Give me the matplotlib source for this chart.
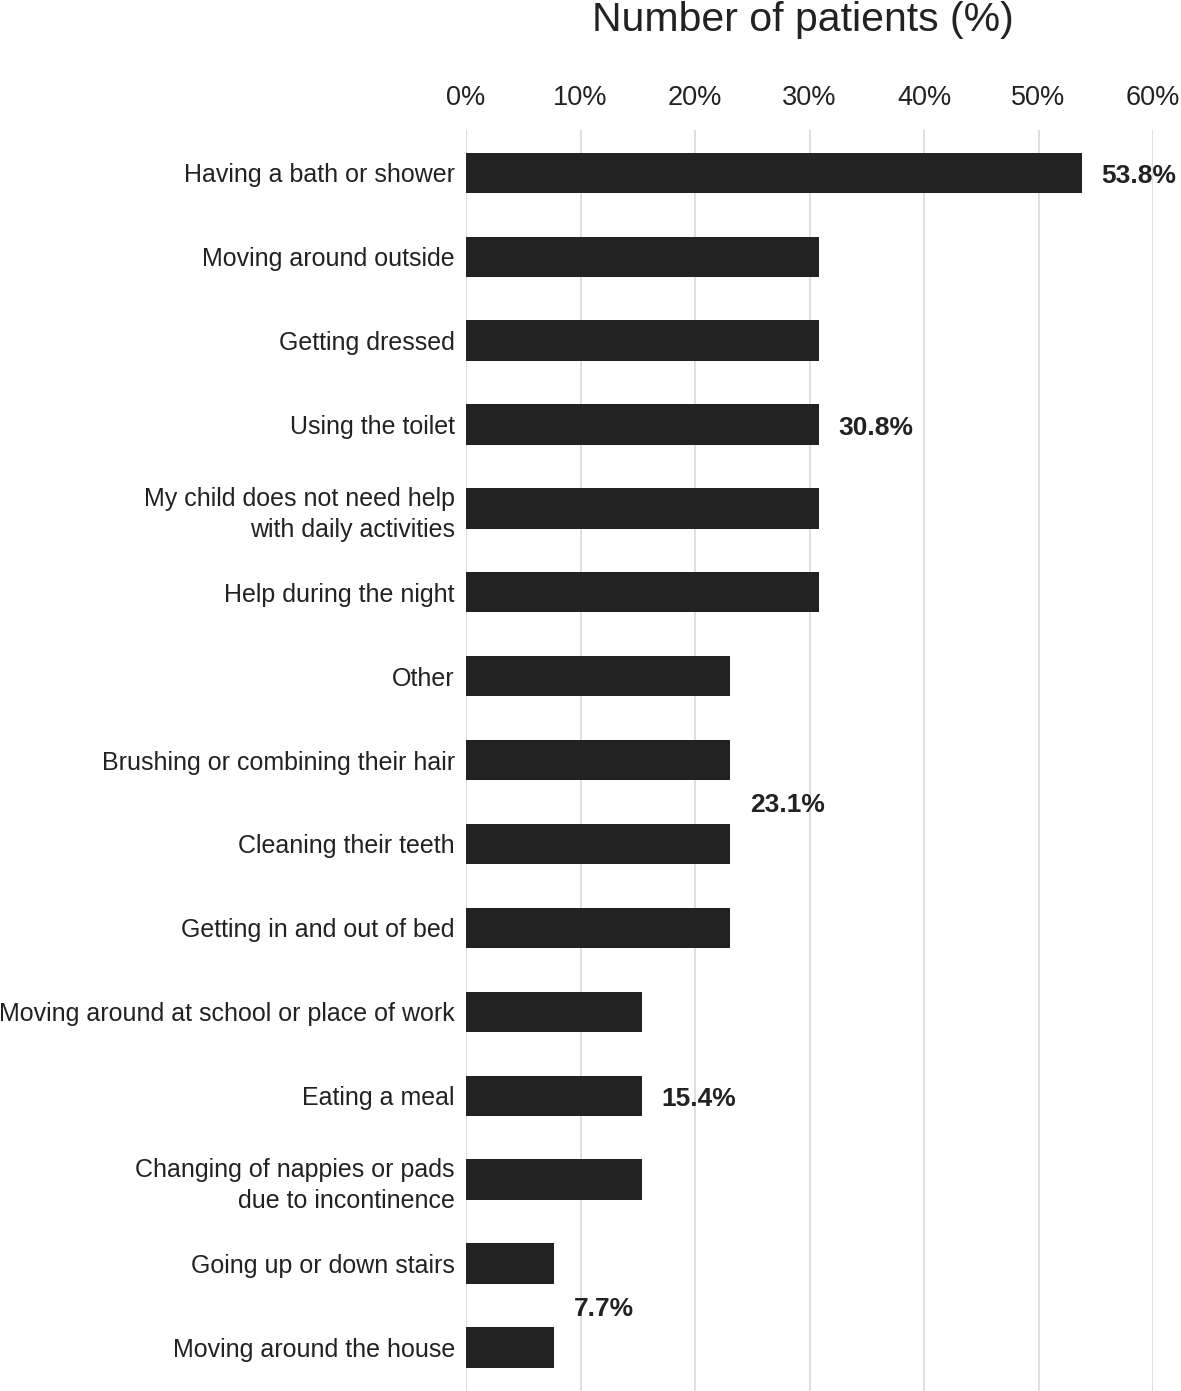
import matplotlib.pyplot as plt
import numpy as np

categories = [
    "Having a bath or shower",
    "Moving around outside",
    "Getting dressed",
    "Using the toilet",
    "My child does not need help\nwith daily activities",
    "Help during the night",
    "Other",
    "Brushing or combining their hair",
    "Cleaning their teeth",
    "Getting in and out of bed",
    "Moving around at school or place of work",
    "Eating a meal",
    "Changing of nappies or pads\ndue to incontinence",
    "Going up or down stairs",
    "Moving around the house",
]
values = [53.8, 30.8, 30.8, 30.8, 30.8, 30.8, 23.1, 23.1, 23.1, 23.1,
          15.4, 15.4, 15.4, 7.7, 7.7]
# value labels: (first index, last index, text) of each group of equal bars
group_labels = [(0, 0, "53.8%"), (1, 5, "30.8%"), (6, 9, "23.1%"),
                (10, 12, "15.4%"), (13, 14, "7.7%")]
xticks = [0, 10, 20, 30, 40, 50, 60]

plt.rcParams['font.family'] = ['Liberation Sans', 'DejaVu Sans']
txt = '#222222'

fig = plt.figure(figsize=(11.81, 13.91), dpi=100)
ax = fig.add_axes([466/1181, 0.0, (1153-466)/1181, 1 - 130/1391])

y = np.arange(len(categories))
ax.barh(y, values, height=0.48, color='#222222', zorder=3)

for i0, i1, lab in group_labels:
    ax.text(values[i0] + 1.7, (i0 + i1) / 2 + 0.04, lab, va='center', ha='left',
            fontsize=19, fontweight='bold', color=txt, clip_on=False)

ax.set_xlim(0, 60)
ax.set_ylim(len(categories) - 0.48, -0.51)
ax.set_yticks(y)
ax.set_yticklabels(categories, fontsize=18, color=txt, linespacing=1.35)
ax.set_xticks(xticks)
ax.set_xticklabels([f"{t}%" for t in xticks], fontsize=19.5, color=txt)
ax.xaxis.tick_top()
ax.tick_params(axis='both', length=0)
ax.tick_params(axis='x', pad=14)
ax.tick_params(axis='y', pad=8)
ax.grid(axis='x', color='#dcdcdc', linewidth=1.3, zorder=0)
for s in ax.spines.values():
    s.set_visible(False)

fig.text(803/1181, 1 - 20/1391, "Number of patients (%)", ha='center', va='center',
         fontsize=29.5, color=txt)

fig.savefig('out.png', dpi=100)
